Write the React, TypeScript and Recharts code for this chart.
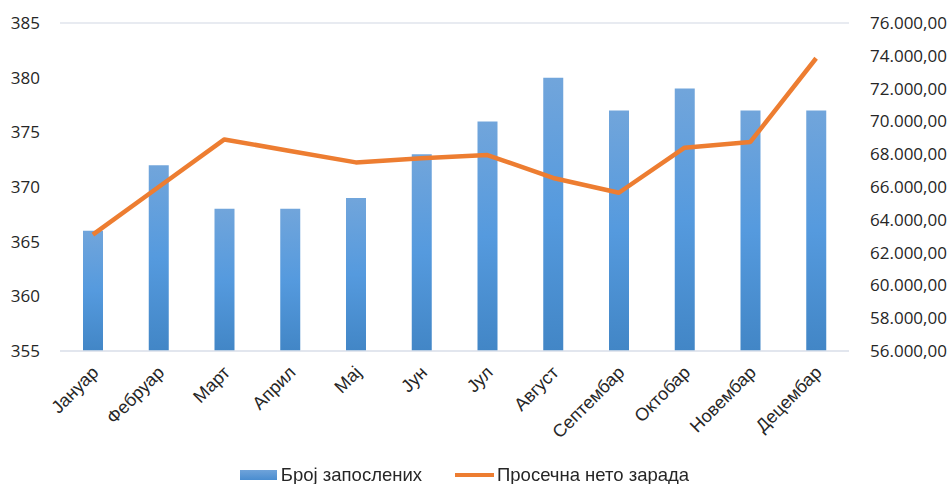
import React from 'react';
import {
    ComposedChart,
    Bar,
    Line,
    XAxis,
    YAxis,
    CartesianGrid,
    Legend,
} from 'recharts';

const MONTHS = ['Јануар', 'Фебруар', 'Март', 'Април', 'Мај', 'Јун', 'Јул', 'Август', 'Септембар', 'Октобар', 'Новембар', 'Децембар'];
const EMPLOYEES = [366, 372, 368, 368, 369, 373, 376, 380, 377, 379, 377, 377];
const SALARY = [63100, 66000, 68900, 68200, 67500, 67750, 67950, 66550, 65650, 68400, 68750, 73850];
const LEFT_TICKS = [355, 360, 365, 370, 375, 380, 385];
const RIGHT_TICKS = [56000, 58000, 60000, 62000, 64000, 66000, 68000, 70000, 72000, 74000, 76000];

const data = MONTHS.map((name, i) => ({ name, employees: EMPLOYEES[i], salary: SALARY[i] }));

const fmtMoney = (v: number) =>
    v.toLocaleString('de-DE', { minimumFractionDigits: 2, maximumFractionDigits: 2 });

const AXIS_FONT = { fontFamily: '"Open Sans", sans-serif', fontSize: 17, fill: '#262626' };

function MonthTick(props: any) {
    const { x, y, payload } = props;
    return (
        <g transform={`translate(${x + 1},${y + 9})`}>
            <text
                textAnchor="end"
                transform="rotate(-45)"
                dy={8}
                fontFamily='"Liberation Sans", Arial, sans-serif'
                fontSize={18}
                fill="#262626"
            >
                {payload.value}
            </text>
        </g>
    );
}

function MoneyTick(props: any) {
    const { x, y, payload } = props;
    return (
        <text x={x + 19} y={y} dy={6} textAnchor="start" {...AXIS_FONT}>
            {fmtMoney(payload.value)}
        </text>
    );
}

function LegendContent() {
    const font = { fontFamily: '"Liberation Sans", Arial, sans-serif', fontSize: 18.5, color: '#262626' };
    return (
        <div style={{ display: 'flex', justifyContent: 'center', alignItems: 'center', paddingTop: 10, paddingRight: 20, ...font }}>
            <span style={{ display: 'inline-block', width: 37, height: 10, background: 'linear-gradient(#6fa3da, #4a8dd0)', marginRight: 4 }} />
            <span>Број запослених</span>
            <span style={{ display: 'inline-block', width: 39, height: 4, background: '#ed7d31', marginLeft: 33, marginRight: 3 }} />
            <span>Просечна нето зарада</span>
        </div>
    );
}

export default function App() {
    return (
        <div style={{ position: 'fixed', left: 0, top: 0, background: '#fff' }}>
            <ComposedChart width={949} height={484} data={data} margin={{ top: 23, right: 0, bottom: 0, left: 0 }}>
                <defs>
                    <linearGradient id="barGrad" x1="0" y1="0" x2="0" y2="1">
                        <stop offset="0%" stopColor="#71a5db" />
                        <stop offset="50%" stopColor="#559ade" />
                        <stop offset="100%" stopColor="#4286c6" />
                    </linearGradient>
                </defs>
                <CartesianGrid vertical={false} stroke="#e1e5ec" strokeWidth={1.5} />
                <XAxis
                    dataKey="name"
                    height={103}
                    interval={0}
                    tick={<MonthTick />}
                    tickLine={false}
                    axisLine={{ stroke: '#e1e5ec', strokeWidth: 1.5 }}
                />
                <YAxis
                    yAxisId="left"
                    width={60}
                    domain={[355, 385]}
                    ticks={LEFT_TICKS}
                    tickLine={false}
                    axisLine={false}
                    tickSize={0}
                    tickMargin={20}
                    tick={AXIS_FONT}
                />
                <YAxis
                    yAxisId="right"
                    orientation="right"
                    width={100}
                    domain={[56000, 76000]}
                    ticks={RIGHT_TICKS}
                    tickLine={false}
                    axisLine={false}
                    tickSize={0}
                    tick={<MoneyTick />}
                />
                <Legend verticalAlign="bottom" height={30} content={<LegendContent />} />
                <Bar yAxisId="left" dataKey="employees" name="Број запослених" fill="url(#barGrad)" barSize={20} isAnimationActive={false} />
                <Line
                    yAxisId="right"
                    dataKey="salary"
                    name="Просечна нето зарада"
                    stroke="#ed7d31"
                    strokeWidth={4.5}
                    dot={false}
                    strokeLinejoin="round"
                    isAnimationActive={false}
                />
            </ComposedChart>
        </div>
    );
}
